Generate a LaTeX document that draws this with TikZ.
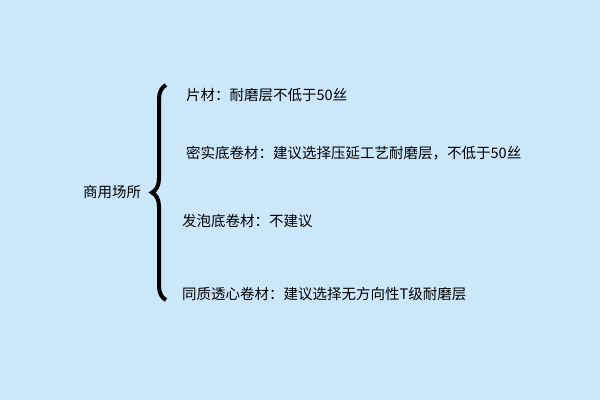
\documentclass[tikz,border=0pt]{standalone}
\usepackage{fontspec}
\newfontfamily\cjk{Noto Sans CJK SC}
\usetikzlibrary{decorations.pathreplacing}
\definecolor{bg}{RGB}{204,230,250}
\begin{document}
\begin{tikzpicture}[x=1pt,y=-1pt,
  lab/.style={anchor=west,font=\cjk\fontsize{14.5}{16}\selectfont,inner sep=0pt}]
\fill[bg] (0,0) rectangle (600,400);
\useasboundingbox (0,0) rectangle (600,400);
\node[anchor=center,font=\cjk\fontsize{14.5}{16}\selectfont,inner sep=0pt] (root) at (112,192) {商用场所};
\coordinate (bb) at (166,300);
\coordinate (bt) at (166,85);
\draw[line width=4pt,decorate,decoration={brace,amplitude=14pt,aspect=0.5}] (bb) -- (bt);
\node[lab] (a) at (186,95) {片材：耐磨层不低于50丝};
\node[lab] (b) at (186,153) {密实底卷材：建议选择压延工艺耐磨层，不低于50丝};
\node[lab] (c) at (182,221) {发泡底卷材：不建议};
\node[lab] (d) at (182,294) {同质透心卷材：建议选择无方向性T级耐磨层};
\end{tikzpicture}
\end{document}
